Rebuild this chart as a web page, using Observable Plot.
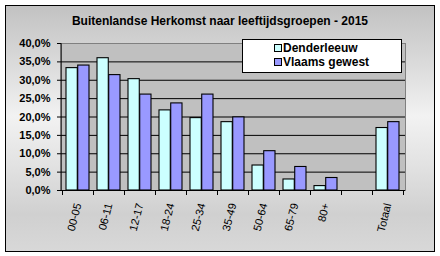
<!DOCTYPE html>
<html>
<head>
<meta charset="utf-8">
<script src="https://cdn.jsdelivr.net/npm/d3@7"></script>
<script src="https://cdn.jsdelivr.net/npm/@observablehq/plot@0.6"></script>
<style>
  html, body { margin: 0; padding: 0; background: #fff; }
  #wrap { position: relative; width: 440px; height: 256px; overflow: hidden; font-family: "Liberation Sans", Arial, sans-serif; }
  #bg { position: absolute; left: 5px; top: 5px; width: 428px; height: 245px; border: 1px solid #000;
        background: linear-gradient(to bottom, #c2c2c2 0%, #dcdcdc 25%, #f2f2f2 45%, #e2e2e2 65%, #d0d0d0 85%, #d8d8d8 100%); }
  #title { position: absolute; left: 0; width: 440px; top: 14px; text-align: center; font-weight: bold; font-size: 12px; line-height: 14px; color: #000; }
  #chart { position: absolute; left: 0; top: 0; }
  #legend { position: absolute; left: 242px; top: 39px; width: 158px; height: 32px; background: #fff; border: 1px solid #000; }
  .li { position: absolute; left: 31px; font-weight: bold; font-size: 12px; line-height: 14px; white-space: nowrap; }
  .sw { display: inline-block; width: 6px; height: 6px; border: 1px solid #000; margin-right: 1px; vertical-align: 0px; }
  svg [aria-label^="y-axis"] text { font-weight: bold; }
</style>
</head>
<body>
<div id="wrap">
  <div id="bg"></div>
  <div id="title"></div>
  <div id="chart"></div>
  <div id="legend"></div>
</div>
<script>
const titleText = "Buitenlandse Herkomst naar leeftijdsgroepen - 2015";
const categories = ["00-05", "06-11", "12-17", "18-24", "25-34", "35-49", "50-64", "65-79", "80+", "", "Totaal"];
const seriesNames = ["Denderleeuw", "Vlaams gewest"];
const seriesColors = ["#ccffff", "#9999ff"];
const denderleeuw = [33.3, 36.0, 30.3, 21.8, 19.7, 18.6, 6.8, 3.0, 1.2, null, 17.0];
const vlaamsGewest = [34.0, 31.4, 26.1, 23.7, 26.1, 19.9, 10.7, 6.4, 3.4, null, 18.6];
const yTicks = [0, 5, 10, 15, 20, 25, 30, 35, 40];

document.getElementById("title").textContent = titleText;

const rows = categories.map((c, i) => ({cat: c, dend: denderleeuw[i], vl: vlaamsGewest[i]}))
  .filter(d => d.dend != null);

const W = 440, H = 256, mL = 61, mR = 35, mT = 43, mB = 66;
const pIn = 0.25, pOut = 0.125;
const step = (W - mL - mR) / (categories.length - pIn + 2 * pOut);
const half = step * (1 - pIn) / 2;

const chart = Plot.plot({
  width: W, height: H,
  marginLeft: mL, marginRight: mR, marginTop: mT, marginBottom: mB,
  style: {background: "transparent", fontFamily: "'Liberation Sans', Arial, sans-serif", fontSize: "11px", color: "black"},
  x: {type: "band", domain: categories, paddingInner: pIn, paddingOuter: pOut, label: null, tickSize: 0, tickPadding: 13, tickRotate: -76},
  y: {domain: [0, 40], ticks: yTicks, label: null, tickSize: 4, tickPadding: 7, tickFormat: d => d.toFixed(1).replace(".", ",") + "%"},
  marks: [
    Plot.frame({fill: "#c0c0c0", stroke: "#808080"}),
    Plot.ruleY(yTicks.filter(d => d > 0 && d < 40), {stroke: "black"}),
    Plot.barY(rows, {x: "cat", y: "dend", fill: seriesColors[0], stroke: "black", strokeWidth: 1.1, insetRight: half}),
    Plot.barY(rows, {x: "cat", y: "vl", fill: seriesColors[1], stroke: "black", strokeWidth: 1.1, insetLeft: half}),
    (index, scales, values, dims) => {
      const x = scales.x, y = scales.y;
      const g = d3.create("svg:g").attr("stroke", "black").attr("stroke-width", 1);
      const x0 = x(categories[0]);
      const s = x(categories[1]) - x0;
      const y0 = y(0);
      const leftEdge = dims.marginLeft, rightEdge = dims.width - dims.marginRight;
      g.append("line").attr("x1", leftEdge).attr("x2", leftEdge).attr("y1", y(40)).attr("y2", y0 + 0.5);
      g.append("line").attr("x1", leftEdge).attr("x2", rightEdge).attr("y1", y0 + 0.5).attr("y2", y0 + 0.5);
      for (let i = 0; i <= categories.length; i++) {
        const bx = Math.round((i < categories.length ? x(categories[i]) : x(categories[categories.length - 1]) + s) - s * pIn / 2) + 0.5;
        g.append("line").attr("x1", bx).attr("x2", bx).attr("y1", y0).attr("y2", y0 + 5);
      }
      return g.node();
    }
  ]
});
document.getElementById("chart").appendChild(chart);

const legend = document.getElementById("legend");
seriesNames.forEach((n, i) => {
  const d = document.createElement("div");
  d.className = "li";
  d.style.top = (1 + i * 14) + "px";
  const sw = document.createElement("span");
  sw.className = "sw";
  sw.style.background = seriesColors[i];
  d.appendChild(sw);
  d.appendChild(document.createTextNode(n));
  legend.appendChild(d);
});
</script>
</body>
</html>
